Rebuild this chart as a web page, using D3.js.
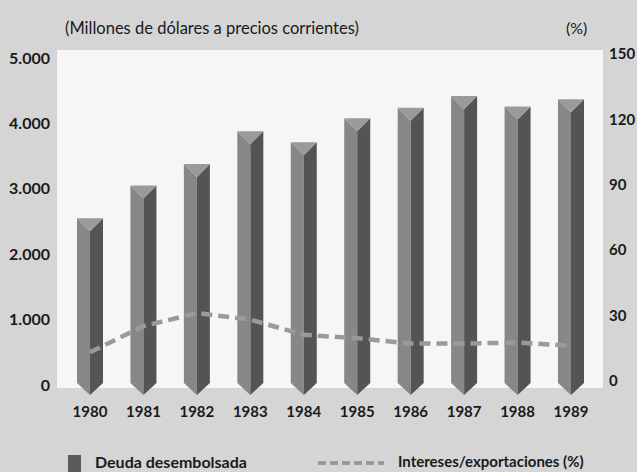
<!DOCTYPE html>
<html><head><meta charset="utf-8">
<script src="https://cdn.jsdelivr.net/npm/d3@7"></script>
<style>
html,body{margin:0;padding:0;background:#d6d6d6;}
svg{display:block;}
text{font-family:Lato,"Open Sans",sans-serif;fill:#1a1a1a;}
</style></head>
<body><svg id="c" width="637" height="472"></svg>
<script>
const years = ["1980","1981","1982","1983","1984","1985","1986","1987","1988","1989"];
const deuda = [2550, 3050, 3380, 3880, 3710, 4080, 4240, 4420, 4260, 4370];
const intereses = [15, 27, 33, 30, 23, 21.5, 19, 19, 19.5, 18];
const leftTicks = [0, 1000, 2000, 3000, 4000, 5000];
const rightTicks = [0, 30, 60, 90, 120, 150];
const title = "(Millones de dólares a precios corrientes)";
const rightTitle = "(%)";
const legendBar = "Deuda desembolsada";
const legendLine = "Intereses/exportaciones (%)";

const svg = d3.select("#c");
const W = 637, H = 472;
const plot = {x0: 57, x1: 603, y0: 50, y1: 388};

// background
svg.append("rect").attr("width", W).attr("height", H).attr("fill", "#d5d5d5");
svg.append("rect").attr("x", plot.x0).attr("y", plot.y0)
  .attr("width", plot.x1 - plot.x0).attr("height", plot.y1 - plot.y0).attr("fill", "#f6f6f6");

const x = d3.scalePoint().domain(years).range([90, 571]);
const yL = d3.scaleLinear().domain([0, 5000]).range([385, 58]);
const yR = d3.scaleLinear().domain([0, 150]).range([385, 58]);
const loc = d3.formatLocale({decimal: ",", thousands: ".", grouping: [3], currency: ["", ""]});
const fmt = loc.format(",d");

// left axis labels
svg.append("g").selectAll("text").data(leftTicks).join("text")
  .attr("x", 50).attr("y", d => yL(d)).attr("dy", "0.35em")
  .attr("text-anchor", "end").attr("font-size", 16).attr("font-weight", "bold")
  .text(d => fmt(d));
// right axis labels
svg.append("g").selectAll("text").data(rightTicks).join("text")
  .attr("x", 609).attr("y", d => yR(d) - 4).attr("dy", "0.35em")
  .attr("text-anchor", "start").attr("font-size", 15).attr("font-weight", "bold")
  .text(d => d);
// titles
svg.append("text").attr("x", 65).attr("y", 34).attr("font-size", 16.5).text(title);
svg.append("text").attr("x", 566).attr("y", 34).attr("font-size", 16).text(rightTitle);

// bars (prism)
const bw = 26, topH = 13, tipH = 12;
const bars = svg.append("g").selectAll("g").data(years.map((y, i) => ({y, v: deuda[i]}))).join("g");
bars.each(function(d) {
  const g = d3.select(this);
  const cx = x(d.y), l = cx - bw / 2, r = cx + bw / 2;
  const t = yL(d.v), b = yL(0) - 2;
  g.append("path").attr("fill", "#878787")
    .attr("d", `M${l},${t}L${cx},${t + topH}L${cx},${b + tipH}L${l},${b}Z`);
  g.append("path").attr("fill", "#545454")
    .attr("d", `M${r},${t}L${cx},${t + topH}L${cx},${b + tipH}L${r},${b}Z`);
  g.append("path").attr("fill", "#9a9a9a")
    .attr("d", `M${l},${t}L${r},${t}L${cx},${t + topH}Z`);
});

// line
const line = d3.line().x((d, i) => x(years[i])).y(d => yR(d));
svg.append("path").datum(intereses).attr("d", line)
  .attr("fill", "none").attr("stroke", "#9a9a9a").attr("stroke-width", 4.5)
  .attr("stroke-dasharray", "11,6");

// x labels
svg.append("g").selectAll("text").data(years).join("text")
  .attr("x", d => x(d)).attr("y", 417).attr("text-anchor", "middle")
  .attr("font-size", 15).attr("font-weight", "bold").text(d => d);

// legend
svg.append("rect").attr("x", 68).attr("y", 455).attr("width", 13).attr("height", 17).attr("fill", "#5a5a5a");
svg.append("text").attr("x", 95).attr("y", 468).attr("font-size", 16).attr("font-weight", "bold").text(legendBar);
svg.append("line").attr("x1", 318).attr("x2", 384).attr("y1", 463).attr("y2", 463)
  .attr("stroke", "#9a9a9a").attr("stroke-width", 4).attr("stroke-dasharray", "8,4");
svg.append("text").attr("x", 398).attr("y", 467).attr("font-size", 15).attr("font-weight", "bold").text(legendLine);
</script></body></html>
